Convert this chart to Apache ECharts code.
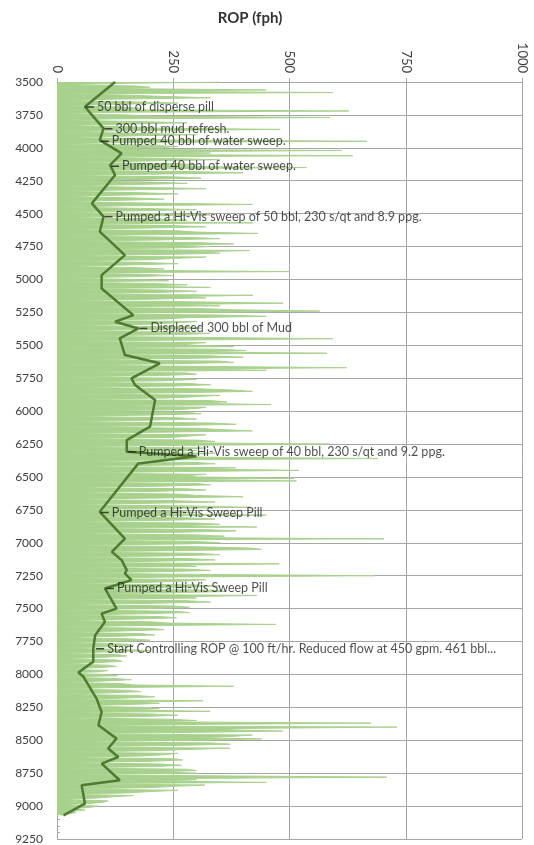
<!DOCTYPE html>
<html><head><meta charset="utf-8">
<script src="https://cdn.jsdelivr.net/npm/echarts/dist/echarts.min.js"></script>
<style>html,body{margin:0;padding:0;background:#fff}#c{width:534px;height:845px}</style>
</head><body><div id="c"></div>
<script>
// ROP samples every 10 ft starting at 3500 ft, one row per 250 ft
const ropStartDepth = 3500;
const ropStepFt = 10;
const ropValues = [
  /*3500*/ 350,150,5,170,200,120,450,140,593,6,160,230,330,130,10,150,260,120,8,140,180,90,628,130,5,
  /*3750*/ 150,200,587,120,5,170,280,140,6,160,210,480,130,9,180,300,150,6,170,240,666,140,5,190,260,
  /*4000*/ 220,10,612,200,330,180,636,5,230,350,190,8,260,300,170,537,210,5,280,400,200,10,250,310,180,
  /*4250*/ 5,200,280,150,6,180,320,140,8,170,260,130,5,160,230,120,6,200,420,150,8,180,300,140,5,
  /*4500*/ 200,330,160,8,220,280,150,421,5,240,320,180,6,260,300,432,200,5,280,350,220,10,300,380,240,
  /*4750*/ 330,260,10,415,300,350,230,5,320,250,200,8,180,260,150,6,170,230,140,500,5,180,250,150,8,
  /*5000*/ 170,240,5,200,280,180,330,8,230,300,200,10,421,260,320,200,5,290,486,250,350,10,300,380,565,
  /*5250*/ 300,5,350,450,280,230,10,300,250,200,8,280,310,220,5,260,330,240,10,300,593,280,5,320,260,
  /*5500*/ 300,380,10,350,407,300,580,5,330,400,280,10,350,380,250,5,300,623,260,450,10,280,300,220,5,
  /*5750*/ 250,300,220,5,280,330,250,10,300,380,420,260,5,350,300,240,8,330,365,280,460,10,320,300,250,
  /*6000*/ 5,280,310,200,10,260,300,180,8,330,385,250,10,300,350,420,220,5,320,280,250,10,300,340,260,
  /*6250*/ 587,280,5,320,260,300,10,340,280,250,320,690,260,5,300,340,250,10,385,300,520,240,5,320,280,
  /*6500*/ 300,510,250,515,5,300,330,220,10,280,320,200,8,260,300,400,220,5,250,340,200,10,280,415,230,
  /*6750*/ 5,250,300,200,450,10,280,340,220,5,300,350,250,430,10,320,385,260,5,300,360,250,703,10,300,
  /*7000*/ 350,260,5,300,415,440,250,10,300,350,230,5,280,340,220,10,478,260,300,5,280,330,220,10,300,
  /*7250*/ 684,260,5,320,280,200,10,300,350,230,8,330,365,250,10,430,260,300,5,280,330,200,5,250,285,
  /*7500*/ 200,5,250,285,180,5,220,257,160,8,200,240,470,150,5,200,230,140,6,180,210,130,8,160,200,
  /*7750*/ 120,6,150,165,110,6,140,200,100,4,130,150,100,6,128,140,90,4,110,128,80,6,110,90,8,
  /*8000*/ 100,130,6,120,160,100,8,140,165,380,120,5,150,180,110,5,170,210,140,5,314,180,220,140,5,
  /*8250*/ 190,220,150,329,5,200,260,180,5,240,300,220,675,300,10,731,400,350,485,300,10,420,380,300,440,
  /*8500*/ 300,10,330,372,250,5,372,280,200,10,260,230,180,5,250,270,200,5,220,268,210,10,280,300,220,
  /*8750*/ 300,10,320,709,280,300,220,450,10,318,250,200,5,260,200,150,5,164,120,80,6,110,100,71,6,
  /*9000*/ 90,70,30,60,32,40,20,10
];

// Smoothed trend (dark line)
const trendDepth = [3500,3688,3852,3941,4042,4131,4207,4422,4523,4637,4815,4967,5068,5271,5321,5372,5448,5574,5637,5751,5802,5916,6118,6220,6309,6342,6397,6765,6968,7069,7132,7208,7233,7284,7347,7500,7538,7601,7702,7803,7904,7985,8018,8183,8285,8386,8487,8563,8627,8677,8804,8842,8981,9070];
const trendRop   = [125,60,100,92,139,114,125,75,100,92,146,96,96,164,125,175,135,146,221,160,168,211,200,150,150,300,175,92,146,118,139,150,146,160,103,128,96,103,82,78,78,46,57,85,96,89,128,110,132,96,135,53,60,14];

// Annotations
const noteDepth = [3690,3855,3950,4140,4523,5372,6309,6770,7347,7805];
const noteRop   = [60,100,92,114,100,175,150,92,103,82];
const noteText  = [
  '50 bbl of disperse pill',
  '300 bbl mud refresh.',
  'Pumped 40 bbl of water sweep.',
  'Pumped 40 bbl of water sweep.',
  'Pumped a Hi-Vis sweep of 50 bbl, 230 s/qt and 8.9 ppg.',
  'Displaced 300 bbl of Mud',
  'Pumped a Hi-Vis sweep of 40 bbl, 230 s/qt and 9.2 ppg.',
  'Pumped a Hi-Vis Sweep Pill',
  'Pumped a Hi-Vis Sweep Pill',
  'Start Controlling ROP @ 100 ft/hr. Reduced flow at 450 gpm. 461 bbl...'
];

const depthMin = 3500, depthMax = 9250, depthInterval = 250;
const ropMin = 0, ropMax = 1000, ropInterval = 250;

const depthCats = [];
for (let d = depthMin; d <= depthMax; d += ropStepFt) depthCats.push(String(d));

const FONT = 'Lato';
const GRID = '#a6a6a6';
const plain = v => String(v);
const chart = echarts.init(document.getElementById('c'), null, {renderer: 'canvas'});
chart.setOption({
  animation: false,
  backgroundColor: '#fff',
  title: {
    text: 'ROP (fph)', left: 245, top: 6, textAlign: 'center',
    textStyle: {fontFamily: FONT, fontSize: 15, fontWeight: 'bold', color: '#333'}
  },
  grid: {left: 57, right: 12, top: 82, bottom: 6, containLabel: false},
  xAxis: {
    type: 'value', position: 'top', min: ropMin, max: ropMax, interval: ropInterval,
    axisLine: {show: true, lineStyle: {color: GRID}},
    axisTick: {show: true, length: 4, lineStyle: {color: GRID}},
    axisLabel: {rotate: 90, margin: 9, color: '#404040', fontFamily: FONT, fontSize: 13, formatter: plain},
    splitLine: {show: true, lineStyle: {color: GRID, width: 1}}
  },
  yAxis: [{
    type: 'value', inverse: true, min: depthMin, max: depthMax, interval: depthInterval,
    axisLine: {show: true, lineStyle: {color: GRID}},
    axisTick: {show: true, inside: true, length: 4, lineStyle: {color: GRID}},
    minorTick: {show: true, splitNumber: 5, length: 3, lineStyle: {color: GRID}},
    axisLabel: {margin: 14, color: '#404040', fontFamily: FONT, fontSize: 12, formatter: plain},
    splitLine: {show: true, lineStyle: {color: GRID, width: 1}}
  }, {
    type: 'category', inverse: true, boundaryGap: false, data: depthCats, show: false
  }],
  series: [{
    type: 'line', yAxisIndex: 1, data: ropValues, showSymbol: false, silent: true,
    lineStyle: {color: '#a9d18e', width: 1},
    areaStyle: {color: '#a9d18e', opacity: 1},
    z: 2
  }, {
    type: 'line', yAxisIndex: 0, showSymbol: false, silent: true,
    data: trendDepth.map((d, i) => [trendRop[i], d]),
    lineStyle: {color: '#4f7b30', width: 2.5},
    z: 3
  }, {
    type: 'scatter', yAxisIndex: 0, silent: true,
    data: noteDepth.map((d, i) => ({value: [noteRop[i], d], name: noteText[i]})),
    symbol: 'rect', symbolSize: [8, 1.5], symbolOffset: [5, 0],
    itemStyle: {color: '#1f1f1f'},
    label: {show: true, position: 'right', distance: 3, formatter: p => p.name,
            fontFamily: FONT, fontSize: 12.5, color: '#1f1f1f'},
    z: 4
  }]
});
</script></body></html>
